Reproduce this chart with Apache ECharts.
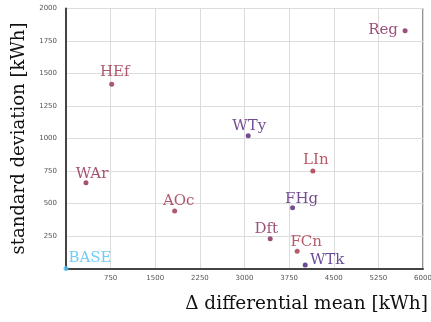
<!DOCTYPE html>
<html><head><meta charset="utf-8">
<script src="https://cdn.jsdelivr.net/npm/echarts@6/dist/echarts.min.js"></script>
<style>html,body{margin:0;padding:0;background:#fff}#c{width:431px;height:322px}</style>
</head><body><div id="c"></div>
<script>
const names = ['BASE','HEf','Reg','WTy','LIn','WAr','AOc','FHg','Dft','FCn','WTk'];
const diffMean = [0, 768, 5699, 3062, 4149, 336, 1826, 3808, 3432, 3885, 4020];
const stdDev = [0, 1417, 1829, 1022, 750, 660, 442, 468, 229, 132, 27];
const colors = ['#4fbff5','#9a2e47','#84225d','#532173','#a83041','#90264f','#9a2e47','#512176','#822554','#a63143','#42207c'];
const xTicks = [750,1500,2250,3000,3750,4500,5250,6000];
const yTicks = [250,500,750,1000,1250,1500,1750,2000];
// label placement (pixel offsets of label centre from point)
const labelOffsets = [[24,-10],[3,-12],[-22,-1],[1,-10],[3,-11],[6,-9],[4,-10],[9,-9],[-4,-10],[9,-9],[22,-5]];

const data = names.map((n,i)=>({
  value:[diffMean[i], stdDev[i]],
  name:n,
  itemStyle:{color:colors[i]},
  label:{show:true, formatter:n, color:colors[i], position:'inside', offset:labelOffsets[i],
    fontFamily:'DejaVu Serif', fontSize:15}
}));

const chart = echarts.init(document.getElementById('c'), null, {renderer:'canvas'});
chart.setOption({
  animation:false,
  grid:{left:66, right:8, top:8.5, bottom:53.5, show:true, borderColor:'#222', borderWidth:1,
    outerBoundsMode:'none', containLabel:false},
  xAxis:{type:'value', min:0, max:6000, interval:750,
    axisLine:{show:true, lineStyle:{color:'#444', width:2}},
    axisTick:{show:false},
    splitLine:{show:true, lineStyle:{color:'#dcdcdc', width:1}},
    axisLabel:{showMinLabel:false, fontSize:7, color:'#555', margin:6, fontFamily:'DejaVu Sans',
      formatter:v=> xTicks.includes(v)? String(v):''}
  },
  yAxis:{type:'value', min:0, max:2000, interval:250,
    name:'standard deviation [kWh]', nameLocation:'middle', nameGap:33,
    nameTextStyle:{fontFamily:'DejaVu Serif', fontSize:18, color:'#111'},
    axisLine:{show:true, lineStyle:{color:'#444', width:2}},
    axisTick:{show:false},
    splitLine:{show:true, lineStyle:{color:'#dcdcdc', width:1}},
    axisLabel:{showMinLabel:false, fontSize:7, color:'#555', margin:9, fontFamily:'DejaVu Sans',
      formatter:v=> yTicks.includes(v)? String(v):''}
  },
  graphic:[{type:'text', right:3, top:295, style:{text:'Δ differential mean [kWh]', font:'18.5px "DejaVu Serif"', fill:'#111'}}],
  series:[{type:'scatter', symbolSize:5, data:data}]
});
</script></body></html>
